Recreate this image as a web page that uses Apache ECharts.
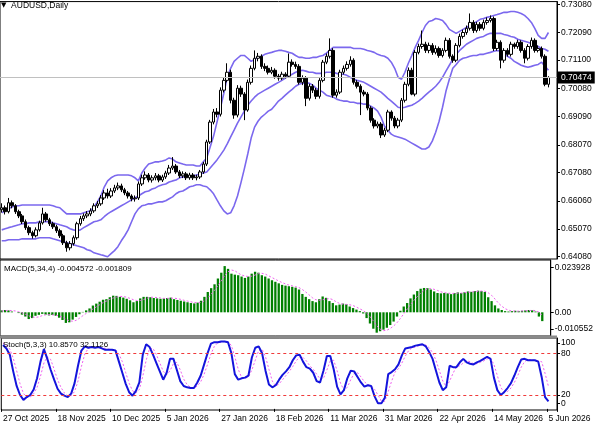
<!DOCTYPE html>
<html>
<head>
<meta charset="utf-8">
<script src="https://cdn.jsdelivr.net/npm/echarts@6.0.0/dist/echarts.min.js"></script>
<style>
  html, body { margin: 0; padding: 0; background: #fff; }
  #chart { width: 596px; height: 425px; }
</style>
</head>
<body>
<div id="chart"></div>
<script>
// axis labels, every 16th bar
const dateLabels = ['27 Oct 2025', '18 Nov 2025', '10 Dec 2025', '5 Jan 2026', '27 Jan 2026', '18 Feb 2026',
  '11 Mar 2026', '31 Mar 2026', '22 Apr 2026', '14 May 2026', '5 Jun 2026'];
const priceTicks = [0.64080, 0.65070, 0.66060, 0.67080, 0.68070, 0.69090, 0.70080, 0.71100, 0.72090, 0.73080];
const macdTickLabels = ['-0.010552', '0.00', '0.023928'];
const stochLevels = [20, 80];
const stochEdgeLabels = ['0', '100'];

// daily AUDUSD candles
const opens = [0.6575, 0.6582, 0.6568, 0.6600, 0.6589, 0.6568, 0.6553, 0.6532, 0.6511, 0.6493,
  0.6482, 0.6503, 0.6528, 0.6560, 0.6539, 0.6525, 0.6514, 0.6500, 0.6482, 0.6457,
  0.6439, 0.6454, 0.6475, 0.6525, 0.6543, 0.6553, 0.6560, 0.6571, 0.6589, 0.6596,
  0.6617, 0.6635, 0.6624, 0.6642, 0.6653, 0.6660, 0.6646, 0.6635, 0.6624, 0.6614,
  0.6617, 0.6667, 0.6689, 0.6699, 0.6681, 0.6689, 0.6696, 0.6681, 0.6692, 0.6706,
  0.6724, 0.6731, 0.6710, 0.6696, 0.6703, 0.6689, 0.6699, 0.6689, 0.6692, 0.6710,
  0.6738, 0.6817, 0.6888, 0.6924, 0.6916, 0.7002, 0.7037, 0.7066, 0.6966, 0.6913,
  0.7009, 0.6988, 0.6931, 0.7030, 0.7080, 0.7116, 0.7123, 0.7087, 0.7080, 0.7066,
  0.7073, 0.7052, 0.7045, 0.7059, 0.7052, 0.7102, 0.7094, 0.7087, 0.7030, 0.7045,
  0.6973, 0.7016, 0.7002, 0.6980, 0.7037, 0.7102, 0.7123, 0.7144, 0.6984, 0.6995,
  0.7066, 0.7080, 0.7094, 0.7109, 0.7030, 0.7016, 0.6995, 0.6988, 0.6938, 0.6895,
  0.6874, 0.6881, 0.6842, 0.6859, 0.6924, 0.6902, 0.6874, 0.6895, 0.6966, 0.7023,
  0.7073, 0.6988, 0.7137, 0.7158, 0.7166, 0.7144, 0.7162, 0.7137, 0.7151, 0.7126,
  0.7144, 0.7180, 0.7123, 0.7109, 0.7162, 0.7194, 0.7208, 0.7223, 0.7244, 0.7215,
  0.7237, 0.7223, 0.7244, 0.7251, 0.7258, 0.7151, 0.7173, 0.7109, 0.7144, 0.7130,
  0.7166, 0.7158, 0.7173, 0.7144, 0.7116, 0.7158, 0.7180, 0.7144, 0.7151, 0.7123,
  0.7023];
const closes = [0.6582, 0.6568, 0.6600, 0.6589, 0.6568, 0.6553, 0.6532, 0.6511, 0.6493, 0.6482,
  0.6503, 0.6528, 0.6560, 0.6539, 0.6525, 0.6514, 0.6500, 0.6482, 0.6457, 0.6439,
  0.6454, 0.6475, 0.6525, 0.6543, 0.6553, 0.6560, 0.6571, 0.6589, 0.6596, 0.6617,
  0.6635, 0.6624, 0.6642, 0.6653, 0.6660, 0.6646, 0.6635, 0.6624, 0.6614, 0.6617,
  0.6667, 0.6689, 0.6699, 0.6681, 0.6689, 0.6696, 0.6681, 0.6692, 0.6706, 0.6724,
  0.6731, 0.6710, 0.6696, 0.6703, 0.6689, 0.6699, 0.6689, 0.6692, 0.6710, 0.6738,
  0.6817, 0.6888, 0.6924, 0.6916, 0.7002, 0.7037, 0.7066, 0.6966, 0.6913, 0.7009,
  0.6988, 0.6931, 0.7030, 0.7080, 0.7116, 0.7123, 0.7087, 0.7080, 0.7066, 0.7073,
  0.7052, 0.7045, 0.7059, 0.7052, 0.7102, 0.7094, 0.7087, 0.7030, 0.7045, 0.6973,
  0.7016, 0.7002, 0.6980, 0.7037, 0.7102, 0.7123, 0.7144, 0.6984, 0.6995, 0.7066,
  0.7080, 0.7094, 0.7109, 0.7030, 0.7016, 0.6995, 0.6988, 0.6938, 0.6895, 0.6874,
  0.6881, 0.6842, 0.6859, 0.6924, 0.6902, 0.6874, 0.6895, 0.6966, 0.7023, 0.7073,
  0.6988, 0.7137, 0.7158, 0.7166, 0.7144, 0.7162, 0.7137, 0.7151, 0.7126, 0.7144,
  0.7180, 0.7123, 0.7109, 0.7162, 0.7194, 0.7208, 0.7223, 0.7244, 0.7215, 0.7237,
  0.7223, 0.7244, 0.7251, 0.7258, 0.7151, 0.7173, 0.7109, 0.7144, 0.7130, 0.7166,
  0.7158, 0.7173, 0.7144, 0.7116, 0.7158, 0.7180, 0.7144, 0.7151, 0.7123, 0.7023,
  0.70474];
const highs = [0.6598, 0.6590, 0.6617, 0.6608, 0.6595, 0.6575, 0.6560, 0.6540, 0.6518, 0.6500,
  0.6512, 0.6536, 0.6582, 0.6567, 0.6546, 0.6532, 0.6521, 0.6507, 0.6489, 0.6464,
  0.6463, 0.6483, 0.6532, 0.6553, 0.6562, 0.6570, 0.6580, 0.6598, 0.6606, 0.6627,
  0.6645, 0.6650, 0.6652, 0.6664, 0.6672, 0.6668, 0.6653, 0.6642, 0.6630, 0.6626,
  0.6676, 0.6700, 0.6712, 0.6706, 0.6698, 0.6706, 0.6703, 0.6700, 0.6714, 0.6735,
  0.6763, 0.6738, 0.6717, 0.6712, 0.6710, 0.6707, 0.6706, 0.6700, 0.6717, 0.6746,
  0.6825, 0.6896, 0.6935, 0.6938, 0.7012, 0.7048, 0.7098, 0.7075, 0.6975, 0.7020,
  0.7018, 0.6995, 0.7040, 0.7090, 0.7144, 0.7135, 0.7130, 0.7098, 0.7090, 0.7085,
  0.7080, 0.7060, 0.7068, 0.7066, 0.7133, 0.7112, 0.7104, 0.7095, 0.7055, 0.7052,
  0.7025, 0.7024, 0.7010, 0.7045, 0.7110, 0.7133, 0.7187, 0.7152, 0.7005, 0.7075,
  0.7090, 0.7105, 0.7123, 0.7116, 0.7038, 0.7023, 0.7003, 0.6995, 0.6945, 0.6902,
  0.6890, 0.6888, 0.6868, 0.6932, 0.6930, 0.6910, 0.6903, 0.6974, 0.7032, 0.7083,
  0.7082, 0.7145, 0.7168, 0.7215, 0.7175, 0.7172, 0.7170, 0.7162, 0.7158, 0.7152,
  0.7190, 0.7188, 0.7130, 0.7170, 0.7204, 0.7218, 0.7233, 0.7276, 0.7252, 0.7246,
  0.7245, 0.7254, 0.7262, 0.7269, 0.7265, 0.7182, 0.7180, 0.7152, 0.7152, 0.7175,
  0.7172, 0.7182, 0.7180, 0.7152, 0.7166, 0.7190, 0.7187, 0.7162, 0.7158, 0.7130,
  0.7052];
const lows = [0.6565, 0.6558, 0.6562, 0.6580, 0.6560, 0.6545, 0.6524, 0.6503, 0.6484, 0.6472,
  0.6476, 0.6497, 0.6522, 0.6532, 0.6517, 0.6506, 0.6492, 0.6474, 0.6449, 0.6425,
  0.6430, 0.6447, 0.6468, 0.6518, 0.6535, 0.6545, 0.6552, 0.6564, 0.6581, 0.6589,
  0.6610, 0.6615, 0.6617, 0.6635, 0.6645, 0.6638, 0.6627, 0.6615, 0.6605, 0.6604,
  0.6610, 0.6660, 0.6682, 0.6673, 0.6672, 0.6680, 0.6673, 0.6674, 0.6685, 0.6699,
  0.6717, 0.6703, 0.6688, 0.6688, 0.6681, 0.6682, 0.6681, 0.6680, 0.6685, 0.6703,
  0.6731, 0.6810, 0.6880, 0.6905, 0.6908, 0.6994, 0.7030, 0.6955, 0.6900, 0.6905,
  0.6978, 0.6895, 0.6925, 0.7022, 0.7073, 0.7105, 0.7078, 0.7070, 0.7058, 0.7059,
  0.7043, 0.7036, 0.7038, 0.7044, 0.7046, 0.7086, 0.7078, 0.7022, 0.7020, 0.6945,
  0.6965, 0.6992, 0.6970, 0.6972, 0.7030, 0.7095, 0.7115, 0.6975, 0.6975, 0.6988,
  0.7058, 0.7072, 0.7086, 0.7022, 0.7008, 0.6913, 0.6980, 0.6930, 0.6886, 0.6865,
  0.6866, 0.6831, 0.6835, 0.6852, 0.6893, 0.6866, 0.6866, 0.6888, 0.6958, 0.7016,
  0.6984, 0.6980, 0.7130, 0.7150, 0.7135, 0.7134, 0.7128, 0.7130, 0.7118, 0.7119,
  0.7137, 0.7115, 0.7100, 0.7102, 0.7155, 0.7186, 0.7200, 0.7215, 0.7206, 0.7208,
  0.7214, 0.7216, 0.7236, 0.7244, 0.7142, 0.7143, 0.7080, 0.7100, 0.7122, 0.7122,
  0.7150, 0.7150, 0.7136, 0.7098, 0.7108, 0.7150, 0.7136, 0.7137, 0.7115, 0.7016,
  0.7012];

// Bollinger bands
const bbUpper = [0.6564, 0.6571, 0.6578, 0.6585, 0.6589, 0.6589, 0.6592, 0.6592, 0.6592, 0.6592,
  0.6592, 0.6592, 0.6592, 0.6592, 0.6592, 0.6589, 0.6585, 0.6582, 0.6571, 0.6560,
  0.6560, 0.6560, 0.6560, 0.6560, 0.6564, 0.6568, 0.6571, 0.6585, 0.6603, 0.6624,
  0.6656, 0.6678, 0.6689, 0.6696, 0.6699, 0.6699, 0.6699, 0.6699, 0.6696, 0.6689,
  0.6678, 0.6706, 0.6724, 0.6738, 0.6742, 0.6746, 0.6746, 0.6749, 0.6753, 0.6760,
  0.6756, 0.6746, 0.6742, 0.6738, 0.6735, 0.6735, 0.6735, 0.6731, 0.6731, 0.6746,
  0.6760, 0.6799, 0.6838, 0.6888, 0.6938, 0.6991, 0.7048, 0.7080, 0.7105, 0.7116,
  0.7126, 0.7126, 0.7116, 0.7105, 0.7112, 0.7119, 0.7123, 0.7130, 0.7134, 0.7137,
  0.7141, 0.7144, 0.7144, 0.7141, 0.7137, 0.7134, 0.7126, 0.7119, 0.7119, 0.7116,
  0.7116, 0.7119, 0.7119, 0.7123, 0.7126, 0.7134, 0.7144, 0.7155, 0.7155, 0.7155,
  0.7155, 0.7155, 0.7155, 0.7151, 0.7151, 0.7151, 0.7148, 0.7144, 0.7141, 0.7137,
  0.7130, 0.7126, 0.7123, 0.7116, 0.7102, 0.7080, 0.7048, 0.7041, 0.7066, 0.7098,
  0.7126, 0.7155, 0.7180, 0.7208, 0.7233, 0.7247, 0.7251, 0.7258, 0.7255, 0.7251,
  0.7237, 0.7219, 0.7212, 0.7205, 0.7212, 0.7219, 0.7226, 0.7233, 0.7240, 0.7247,
  0.7255, 0.7258, 0.7262, 0.7265, 0.7269, 0.7272, 0.7276, 0.7280, 0.7280, 0.7283,
  0.7283, 0.7280, 0.7276, 0.7269, 0.7258, 0.7244, 0.7223, 0.7198, 0.7187, 0.7187,
  0.7208];
const bbMiddle = [0.6503, 0.6507, 0.6511, 0.6514, 0.6518, 0.6521, 0.6525, 0.6525, 0.6528, 0.6528,
  0.6528, 0.6532, 0.6532, 0.6532, 0.6532, 0.6528, 0.6525, 0.6521, 0.6518, 0.6514,
  0.6507, 0.6503, 0.6500, 0.6503, 0.6511, 0.6518, 0.6525, 0.6532, 0.6535, 0.6539,
  0.6550, 0.6560, 0.6568, 0.6575, 0.6582, 0.6589, 0.6596, 0.6603, 0.6610, 0.6617,
  0.6624, 0.6632, 0.6639, 0.6642, 0.6649, 0.6653, 0.6660, 0.6664, 0.6667, 0.6674,
  0.6678, 0.6681, 0.6689, 0.6692, 0.6692, 0.6696, 0.6696, 0.6699, 0.6703, 0.6706,
  0.6710, 0.6724, 0.6738, 0.6753, 0.6770, 0.6788, 0.6810, 0.6835, 0.6859, 0.6884,
  0.6906, 0.6927, 0.6948, 0.6963, 0.6977, 0.6988, 0.6995, 0.7002, 0.7009, 0.7016,
  0.7023, 0.7030, 0.7037, 0.7045, 0.7052, 0.7059, 0.7066, 0.7070, 0.7073, 0.7070,
  0.7066, 0.7066, 0.7062, 0.7062, 0.7062, 0.7066, 0.7066, 0.7066, 0.7062, 0.7059,
  0.7059, 0.7055, 0.7048, 0.7041, 0.7037, 0.7034, 0.7030, 0.7023, 0.7016, 0.7009,
  0.7002, 0.6995, 0.6984, 0.6973, 0.6963, 0.6952, 0.6941, 0.6938, 0.6941, 0.6945,
  0.6948, 0.6955, 0.6963, 0.6973, 0.6984, 0.6995, 0.7005, 0.7016, 0.7030, 0.7048,
  0.7070, 0.7091, 0.7112, 0.7130, 0.7144, 0.7155, 0.7166, 0.7173, 0.7180, 0.7187,
  0.7191, 0.7194, 0.7201, 0.7205, 0.7205, 0.7205, 0.7205, 0.7201, 0.7198, 0.7194,
  0.7191, 0.7184, 0.7180, 0.7177, 0.7173, 0.7169, 0.7162, 0.7158, 0.7151, 0.7148,
  0.7141];
const bbLower = [0.6464, 0.6464, 0.6468, 0.6468, 0.6468, 0.6468, 0.6471, 0.6471, 0.6471, 0.6471,
  0.6471, 0.6475, 0.6475, 0.6475, 0.6475, 0.6471, 0.6468, 0.6464, 0.6461, 0.6457,
  0.6454, 0.6450, 0.6446, 0.6443, 0.6439, 0.6432, 0.6429, 0.6421, 0.6418, 0.6414,
  0.6411, 0.6407, 0.6418, 0.6429, 0.6443, 0.6464, 0.6482, 0.6503, 0.6532, 0.6560,
  0.6578, 0.6589, 0.6592, 0.6596, 0.6596, 0.6600, 0.6603, 0.6603, 0.6607, 0.6614,
  0.6621, 0.6632, 0.6639, 0.6642, 0.6649, 0.6657, 0.6660, 0.6664, 0.6664, 0.6660,
  0.6657, 0.6646, 0.6632, 0.6610, 0.6589, 0.6571, 0.6560, 0.6564, 0.6589, 0.6624,
  0.6671, 0.6721, 0.6774, 0.6831, 0.6870, 0.6891, 0.6906, 0.6916, 0.6927, 0.6934,
  0.6948, 0.6963, 0.6973, 0.6984, 0.6995, 0.7005, 0.7016, 0.7023, 0.7027, 0.7027,
  0.7027, 0.7020, 0.7009, 0.7002, 0.6995, 0.6984, 0.6980, 0.6977, 0.6970, 0.6966,
  0.6963, 0.6963, 0.6959, 0.6959, 0.6955, 0.6955, 0.6952, 0.6952, 0.6945, 0.6938,
  0.6927, 0.6906, 0.6874, 0.6859, 0.6845, 0.6838, 0.6835, 0.6831, 0.6827, 0.6820,
  0.6813, 0.6806, 0.6799, 0.6792, 0.6792, 0.6799, 0.6820, 0.6852, 0.6891, 0.6941,
  0.6998, 0.7041, 0.7080, 0.7094, 0.7109, 0.7116, 0.7119, 0.7123, 0.7126, 0.7126,
  0.7130, 0.7130, 0.7134, 0.7137, 0.7141, 0.7144, 0.7141, 0.7134, 0.7123, 0.7116,
  0.7105, 0.7098, 0.7091, 0.7087, 0.7084, 0.7087, 0.7091, 0.7094, 0.7102, 0.7087,
  0.7073];

// MACD(5,34,4)
const macdMain = [0.0010, 0.0012, 0.0010, 0.0004, 0.0000, -0.0004, -0.0012, -0.0022, -0.0035, -0.0030,
  -0.0018, -0.0013, -0.0008, -0.0012, -0.0016, -0.0014, -0.0018, -0.0028, -0.0040, -0.0055,
  -0.0052, -0.0038, -0.0024, -0.0010, 0.0002, 0.0010, 0.0020, 0.0035, 0.0045, 0.0055,
  0.0065, 0.0068, 0.0078, 0.0086, 0.0085, 0.0080, 0.0076, 0.0070, 0.0062, 0.0052,
  0.0058, 0.0072, 0.0080, 0.0080, 0.0078, 0.0074, 0.0072, 0.0070, 0.0072, 0.0074,
  0.0076, 0.0068, 0.0064, 0.0060, 0.0056, 0.0052, 0.0048, 0.0046, 0.0050, 0.0060,
  0.0080, 0.0105, 0.0125, 0.0145, 0.0175, 0.0205, 0.023928, 0.0225, 0.0200, 0.0195,
  0.0192, 0.0185, 0.0178, 0.0185, 0.0200, 0.0210, 0.0205, 0.0192, 0.0185, 0.0175,
  0.0166, 0.0158, 0.0150, 0.0142, 0.0138, 0.0135, 0.0132, 0.0128, 0.0118, 0.0095,
  0.0080, 0.0068, 0.0058, 0.0052, 0.0068, 0.0082, 0.0075, 0.0058, 0.0048, 0.0036,
  0.0040, 0.0045, 0.0042, 0.0030, 0.0022, 0.0014, 0.0006, -0.0006, -0.0030, -0.0058,
  -0.0085, -0.010552, -0.0098, -0.0090, -0.0080, -0.0066, -0.0048, -0.0022, 0.0008, 0.0030,
  0.0048, 0.0072, 0.0092, 0.0110, 0.0122, 0.0126, 0.0125, 0.0118, 0.0108, 0.0100,
  0.0098, 0.0100, 0.0098, 0.0094, 0.0100, 0.0103, 0.0100, 0.0104, 0.0108, 0.0106,
  0.0110, 0.0112, 0.0110, 0.0105, 0.0078, 0.0058, 0.0036, 0.0020, 0.0012, 0.0006,
  0.0004, 0.0006, 0.0008, 0.0006, 0.0008, 0.0010, 0.0012, 0.0010, 0.0004, -0.0022,
  -0.004572];
const macdSignal = [0.0006, 0.0009, 0.0010, 0.0009, 0.0007, 0.0003, -0.0003, -0.0010, -0.0018, -0.0025,
  -0.0026, -0.0024, -0.0017, -0.0013, -0.0012, -0.0013, -0.0015, -0.0019, -0.0025, -0.0035,
  -0.0044, -0.0046, -0.0042, -0.0031, -0.0018, -0.0006, 0.0006, 0.0017, 0.0028, 0.0039,
  0.0050, 0.0058, 0.0067, 0.0074, 0.0079, 0.0082, 0.0082, 0.0078, 0.0072, 0.0065,
  0.0061, 0.0061, 0.0066, 0.0073, 0.0078, 0.0078, 0.0076, 0.0074, 0.0072, 0.0072,
  0.0073, 0.0073, 0.0071, 0.0067, 0.0062, 0.0058, 0.0054, 0.0051, 0.0049, 0.0051,
  0.0059, 0.0074, 0.0093, 0.0114, 0.0138, 0.0163, 0.0191, 0.0210, 0.0219, 0.0215,
  0.0203, 0.0193, 0.0188, 0.0185, 0.0187, 0.0193, 0.0200, 0.0202, 0.0198, 0.0189,
  0.0180, 0.0171, 0.0162, 0.0154, 0.0147, 0.0141, 0.0137, 0.0133, 0.0128, 0.0118,
  0.0105, 0.0090, 0.0075, 0.0065, 0.0062, 0.0065, 0.0069, 0.0071, 0.0066, 0.0054,
  0.0046, 0.0042, 0.0041, 0.0039, 0.0035, 0.0027, 0.0018, 0.0009, -0.0004, -0.0022,
  -0.0045, -0.0070, -0.0087, -0.0095, -0.0093, -0.0084, -0.0071, -0.0054, -0.0032, -0.0008,
  0.0016, 0.0040, 0.0061, 0.0081, 0.0099, 0.0113, 0.0121, 0.0123, 0.0119, 0.0113,
  0.0106, 0.0102, 0.0099, 0.0098, 0.0098, 0.0099, 0.0099, 0.0102, 0.0104, 0.0105,
  0.0107, 0.0109, 0.0110, 0.0109, 0.0101, 0.0088, 0.0069, 0.0048, 0.0032, 0.0019,
  0.0011, 0.0007, 0.0006, 0.0006, 0.0007, 0.0008, 0.0009, 0.0010, 0.0009, 0.0001,
  -0.001809];

// Stochastic(5,3,3)
const stochMain = [92, 87, 78, 54, 33, 20, 13, 17, 20, 28,
  44, 68, 86, 72, 56, 42, 29, 22, 19, 17,
  22, 37, 62, 84, 90, 88, 89, 88, 89, 87,
  85, 85, 85, 84, 68, 52, 36, 24, 19, 26,
  38, 78, 93, 89, 78, 66, 54, 42, 52, 72,
  72, 56, 40, 33, 31, 30, 30, 38, 48, 64,
  80, 94, 96, 96, 97, 97, 96, 80, 50, 42,
  44, 45, 48, 74, 88, 90, 80, 55, 35, 31,
  34, 42, 49, 54, 60, 70, 77, 78, 68, 60,
  58, 52, 40, 38, 55, 76, 76, 57, 32, 21,
  27, 44, 55, 54, 46, 38, 32, 34, 33, 18,
  8, 8, 16, 50, 53, 57, 64, 77, 87, 88,
  89, 91, 92, 93, 90, 82, 72, 55, 38, 27,
  31, 62, 60, 60, 67, 72, 67, 65, 64, 67,
  69, 72, 75, 72, 45, 27, 20, 24, 30, 37,
  48, 60, 71, 72, 70, 70, 70, 68, 46, 17,
  10.857];
const stochSignal = [95, 92, 86, 73, 55, 36, 22, 17, 17, 22,
  31, 47, 66, 75, 71, 57, 42, 31, 23, 19,
  19, 25, 40, 61, 79, 87, 89, 88, 89, 88,
  87, 86, 85, 85, 79, 68, 52, 37, 26, 23,
  28, 47, 70, 87, 87, 78, 66, 54, 49, 55,
  65, 67, 56, 43, 35, 31, 30, 33, 39, 50,
  64, 79, 90, 95, 96, 97, 97, 91, 75, 57,
  45, 44, 46, 56, 70, 84, 86, 75, 57, 40,
  33, 36, 42, 48, 54, 61, 69, 75, 74, 69,
  62, 57, 50, 43, 44, 56, 69, 70, 55, 37,
  27, 31, 42, 51, 52, 46, 39, 35, 33, 28,
  20, 11, 11, 25, 40, 53, 58, 66, 76, 84,
  88, 89, 91, 92, 92, 88, 81, 70, 55, 40,
  32, 40, 51, 61, 62, 66, 69, 68, 65, 65,
  67, 69, 72, 73, 64, 48, 31, 24, 25, 30,
  38, 48, 60, 68, 71, 71, 70, 69, 68, 51,
  32.1126];

const N = closes.length;
const SHIFT = 2; // empty slots at the right edge (chart shift)
const cats = [];
for (let i = 0; i < N + SHIFT; i++) cats.push(String(i));
const last = N - 1;
const lastClose = closes[last];

const FONT = 'Liberation Sans';
const labelEvery = (idx) => idx % 16 === 0 && dateLabels[idx / 16] !== undefined;

const chart = echarts.init(document.getElementById('chart'));

const frame = { show: true, borderColor: '#000', borderWidth: 1, backgroundColor: '#fff' };

function xAx(gridIndex, showLabels) {
  return {
    type: 'category', gridIndex: gridIndex, data: cats, boundaryGap: true,
    axisLine: { show: false },
    axisTick: showLabels ? { show: true, interval: labelEvery, length: 3, lineStyle: { color: '#000' } } : { show: false },
    axisLabel: showLabels ? {
      show: true, interval: labelEvery, align: 'left', margin: 4, hideOverlap: false,
      fontSize: 8.5, fontFamily: FONT, color: '#000',
      formatter: (v, idx) => dateLabels[idx / 16] || ''
    } : { show: false },
    splitLine: { show: false }
  };
}

function yAx(gridIndex, min, max, ticks, fmt, showLine) {
  return {
    type: 'value', gridIndex: gridIndex, position: 'right', min: min, max: max, scale: true,
    axisLine: { show: showLine !== false, lineStyle: { color: '#000' } },
    axisTick: { show: true, length: 3, customValues: ticks, lineStyle: { color: '#000' } },
    axisLabel: { show: true, customValues: ticks, formatter: fmt, margin: 4, hideOverlap: false,
      fontSize: 8.5, fontFamily: FONT, color: '#000' },
    splitLine: { show: false }
  };
}

const macdLabelPos = [-0.00865, 0, 0.0231];
const stochEdgePos = [8, 95];

const option = {
  animation: false,
  backgroundColor: '#fff',
  textStyle: { fontFamily: FONT },
  title: [
    { text: '{t|\u25BC}  AUDUSD,Daily', left: 1, top: 1, padding: 0,
      textStyle: { fontSize: 8.5, fontWeight: 'normal', color: '#000', fontFamily: FONT,
        rich: { t: { fontSize: 7, fontFamily: 'DejaVu Sans', color: '#000' } } } },
    { text: 'MACD(5,34,4) ' + macdMain[last].toFixed(6) + ' ' + macdSignal[last].toFixed(6),
      left: 4, top: 265, padding: 0,
      textStyle: { fontSize: 8, fontWeight: 'normal', color: '#000', fontFamily: FONT } },
    { text: 'Stoch(5,3,3) ' + stochMain[last].toFixed(4) + ' ' + stochSignal[last].toFixed(4),
      left: 3, top: 341, padding: 0,
      textStyle: { fontSize: 8, fontWeight: 'normal', color: '#000', fontFamily: FONT } }
  ],
  grid: [
    Object.assign({ left: 0, right: 39, top: 1, height: 258 }, frame),
    Object.assign({ left: 0, right: 39, top: 260, height: 76 }, frame),
    Object.assign({ left: 0, right: 39, top: 338, height: 72 }, frame)
  ],
  graphic: [
    // grey splitter between the MACD and Stochastic windows
    { type: 'rect', left: 0, top: 335.5, shape: { width: 557, height: 3 },
      style: { fill: '#8a8a8a' }, z: 100, silent: true }
  ],
  xAxis: [xAx(0, false), xAx(1, false), xAx(2, true)],
  yAxis: [
    yAx(0, 0.6399, 0.73184, priceTicks, (v) => v.toFixed(5)),
    yAx(1, -0.01227, 0.02708, macdLabelPos,
      (v) => v < -0.001 ? macdTickLabels[0] : (v > 0.001 ? macdTickLabels[2] : macdTickLabels[1])),
    yAx(2, -1.6, 102, stochLevels, (v) => String(v)),
    yAx(2, -1.6, 102, stochEdgePos, (v) => v < 50 ? stochEdgeLabels[0] : stochEdgeLabels[1], false)
  ],
  series: [
    {
      type: 'candlestick', xAxisIndex: 0, yAxisIndex: 0, barWidth: 3,
      data: opens.map((o, i) => [o, closes[i], lows[i], highs[i]]),
      itemStyle: { color: '#fff', color0: '#000', borderColor: '#000', borderColor0: '#000', borderWidth: 1 },
      markLine: {
        silent: true, symbol: ['none', 'none'], animation: false, precision: 5,
        lineStyle: { color: '#c0c0c0', width: 1, type: 'solid' },
        label: { show: true, position: 'end', distance: 1, formatter: lastClose.toFixed(5),
          backgroundColor: '#000', color: '#fff', padding: [2, 3, 1, 3], fontSize: 8.5, fontFamily: FONT },
        data: [{ yAxis: lastClose }]
      },
      z: 3
    },
    { type: 'line', xAxisIndex: 0, yAxisIndex: 0, data: bbUpper, showSymbol: false, silent: true,
      lineStyle: { color: '#7b68ee', width: 1.6 }, z: 2 },
    { type: 'line', xAxisIndex: 0, yAxisIndex: 0, data: bbMiddle, showSymbol: false, silent: true,
      lineStyle: { color: '#7b68ee', width: 1.6 }, z: 2 },
    { type: 'line', xAxisIndex: 0, yAxisIndex: 0, data: bbLower, showSymbol: false, silent: true,
      lineStyle: { color: '#7b68ee', width: 1.6 }, z: 2 },
    { type: 'bar', xAxisIndex: 1, yAxisIndex: 1, data: macdMain, barWidth: 2.3, silent: true,
      itemStyle: { color: '#008000' } },
    { type: 'line', xAxisIndex: 1, yAxisIndex: 1, data: macdSignal, showSymbol: false, silent: true,
      lineStyle: { color: '#f060f0', width: 1, type: [2, 2] }, z: 3 },
    { type: 'line', xAxisIndex: 2, yAxisIndex: 2, data: stochMain, showSymbol: false, silent: true,
      lineStyle: { color: '#1414dc', width: 2 }, z: 3,
      markLine: {
        silent: true, symbol: ['none', 'none'], animation: false, precision: 0,
        label: { show: false },
        lineStyle: { color: '#f03a3a', width: 1, type: [3, 3] },
        data: stochLevels.map((v) => ({ yAxis: v }))
      }
    },
    { type: 'line', xAxisIndex: 2, yAxisIndex: 2, data: stochSignal, showSymbol: false, silent: true,
      lineStyle: { color: '#f060f0', width: 1, type: [2, 2] }, z: 2 }
  ]
};

chart.setOption(option);
</script>
</body>
</html>
